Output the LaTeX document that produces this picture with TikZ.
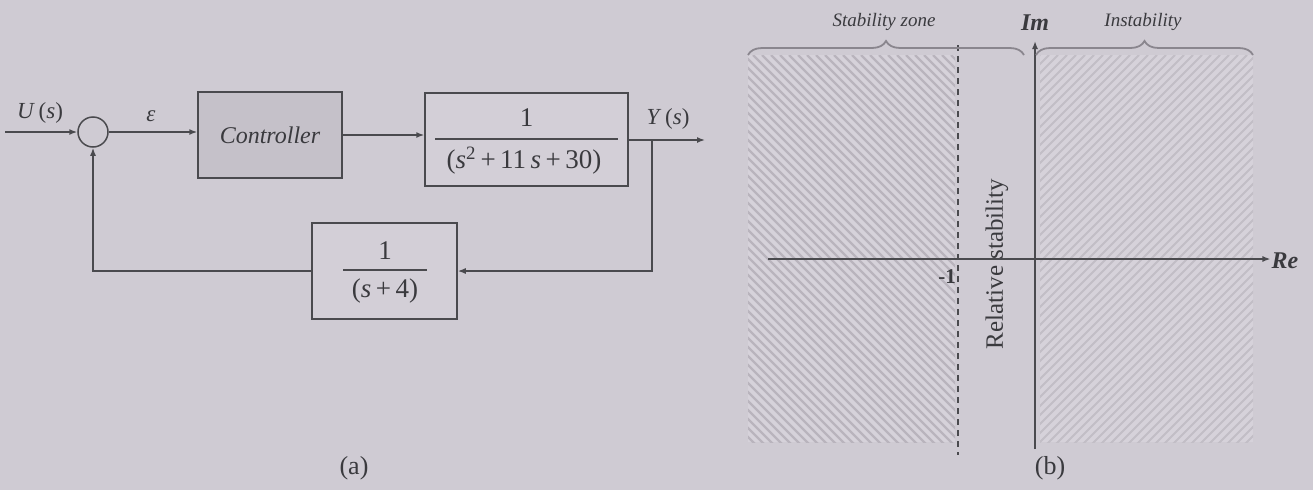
\documentclass[tikz,border=0pt]{standalone}
\usepackage{fontspec}
\setmainfont{Liberation Serif}
\usetikzlibrary{arrows.meta,decorations.pathreplacing}
\definecolor{bgc}{HTML}{CFCBD3}
\definecolor{inkc}{HTML}{4A4A4E}
\definecolor{txtc}{HTML}{3A3A3E}
\definecolor{ctrlfill}{HTML}{C5C1C9}
\definecolor{gfill}{HTML}{D3CFD7}
\definecolor{hatchbg}{HTML}{D6D2DA}
\definecolor{hatchln}{HTML}{B9B4BD}
\definecolor{hatchlnR}{HTML}{C2BEC6}
\definecolor{bracec}{HTML}{8A868E}
\newcommand{\fsz}[1]{\fontsize{#1}{#1}\selectfont}
\begin{document}
\begin{tikzpicture}[x=1pt,y=-1pt,
  blockbox/.style={draw=inkc,line width=1.5pt,inner sep=0pt},
  sumc/.style={draw=inkc,line width=1.5pt,circle,minimum size=30pt,inner sep=0pt},
  arr/.style={draw=inkc,line width=1.5pt,-{Latex[length=8pt,width=6pt]}},
  ln/.style={draw=inkc,line width=1.5pt},
  lbl/.style={text=txtc,inner sep=1pt},
  dashln/.style={draw=inkc,line width=2.2pt,dash pattern=on 6pt off 5pt},
  brc/.style={draw=bracec,line width=1.8pt,decorate,decoration={brace,amplitude=14pt}},
  hl/.style={draw=hatchln,line width=2.4pt},
  hr/.style={draw=hatchlnR,line width=2pt}
]
\useasboundingbox (0,0) rectangle (1313,490);
\fill[bgc] (0,0) rectangle (1313,490);

% ---------- (a) block diagram ----------
\node[sumc] (sum) at (93,132) {};
\coordinate (in) at (5,132);
\node[blockbox,fill=ctrlfill,minimum width=144pt,minimum height=86pt,font=\fsz{24}\itshape,text=txtc] (ctrl) at (270,135) {Controller};
\node[blockbox,fill=gfill,minimum width=203pt,minimum height=93pt] (gbox) at (526.5,139.5) {};
\node[lbl,font=\fsz{27}] (gnum) at (526.5,118) {1};
\node[lbl,font=\fsz{27}] (gden) at (524,161) {(\textit{s}\textsuperscript{2}\,+\,11\,\textit{s}\,+\,30)};
\draw[ln] (435,139) -- (618,139);
\node[blockbox,fill=gfill,minimum width=145pt,minimum height=96pt] (fb) at (384.5,271) {};
\node[lbl,font=\fsz{27}] (fnum) at (385,251) {1};
\node[lbl,font=\fsz{27}] (fden) at (385,291) {(\textit{s}\,+\,4)};
\draw[ln] (343,270) -- (427,270);

\coordinate (out) at (705,140);
\coordinate (br) at (652,140);

\draw[arr] (in) -- (sum.west);
\draw[arr] (sum.east) -- (ctrl.west |- sum.east);
\draw[arr] (ctrl.east) -- (gbox.west |- ctrl.east);
\draw[arr] (gbox.east |- out) -- (out);
\draw[arr] (br) |- (fb.east);
\draw[arr] (fb.west) -| (sum.south);

\node[lbl,font=\fsz{23}] (ulbl) at (40,113) {\textit{U}\,(\textit{s})};
\node[lbl,font=\fsz{23}] (elbl) at (151,116) {\textit{ε}};
\node[lbl,font=\fsz{23}] (ylbl) at (668,119) {\textit{Y}\,(\textit{s})};
\node[lbl,font=\fsz{26}] (alab) at (354,468) {(a)};

% ---------- (b) s-plane ----------
\fill[hatchbg] (748,55) rectangle (955,442);
\begin{scope}
  \clip (748,55) rectangle (955,442);
  \foreach \k in {0,...,70} {
    \draw[hl] ({748-400+9*\k},55) -- ++(400,400);
  }
\end{scope}
\fill[hatchbg] (1040,55) rectangle (1253,442);
\begin{scope}
  \clip (1040,55) rectangle (1253,442);
  \foreach \k in {0,...,70} {
    \draw[hr] ({1040+9*\k},55) -- ++(-400,400);
  }
\end{scope}

\draw[dashln] (958,45) -- (958,455);

\node[lbl,font=\fsz{24}\bfseries\itshape] (relbl) at (1285,261) {Re};
\coordinate (reS) at (768,259);
\draw[arr] (reS) -- (relbl.west |- reS);

\node[lbl,font=\fsz{24}\bfseries\itshape] (imlbl) at (1035,23) {Im};
\coordinate (imS) at (1035,449);
\coordinate (imE) at (1035,41);
\draw[arr] (imS) -- (imE);

\node[lbl,font=\fsz{21}\bfseries] (m1) at (947,277) {-1};
\node[lbl,font=\fsz{25},rotate=90] (rs) at (997,264) {Relative stability};

\draw[brc] (748,55) -- (1024,55);
\draw[brc] (1036,55) -- (1253,55);
\node[lbl,font=\fsz{19}\itshape] (sz) at (884,22) {Stability zone};
\node[lbl,font=\fsz{19}\itshape] (ins) at (1143,22) {Instability};

\node[lbl,font=\fsz{26}] (blab) at (1050,468) {(b)};
\end{tikzpicture}
\end{document}
